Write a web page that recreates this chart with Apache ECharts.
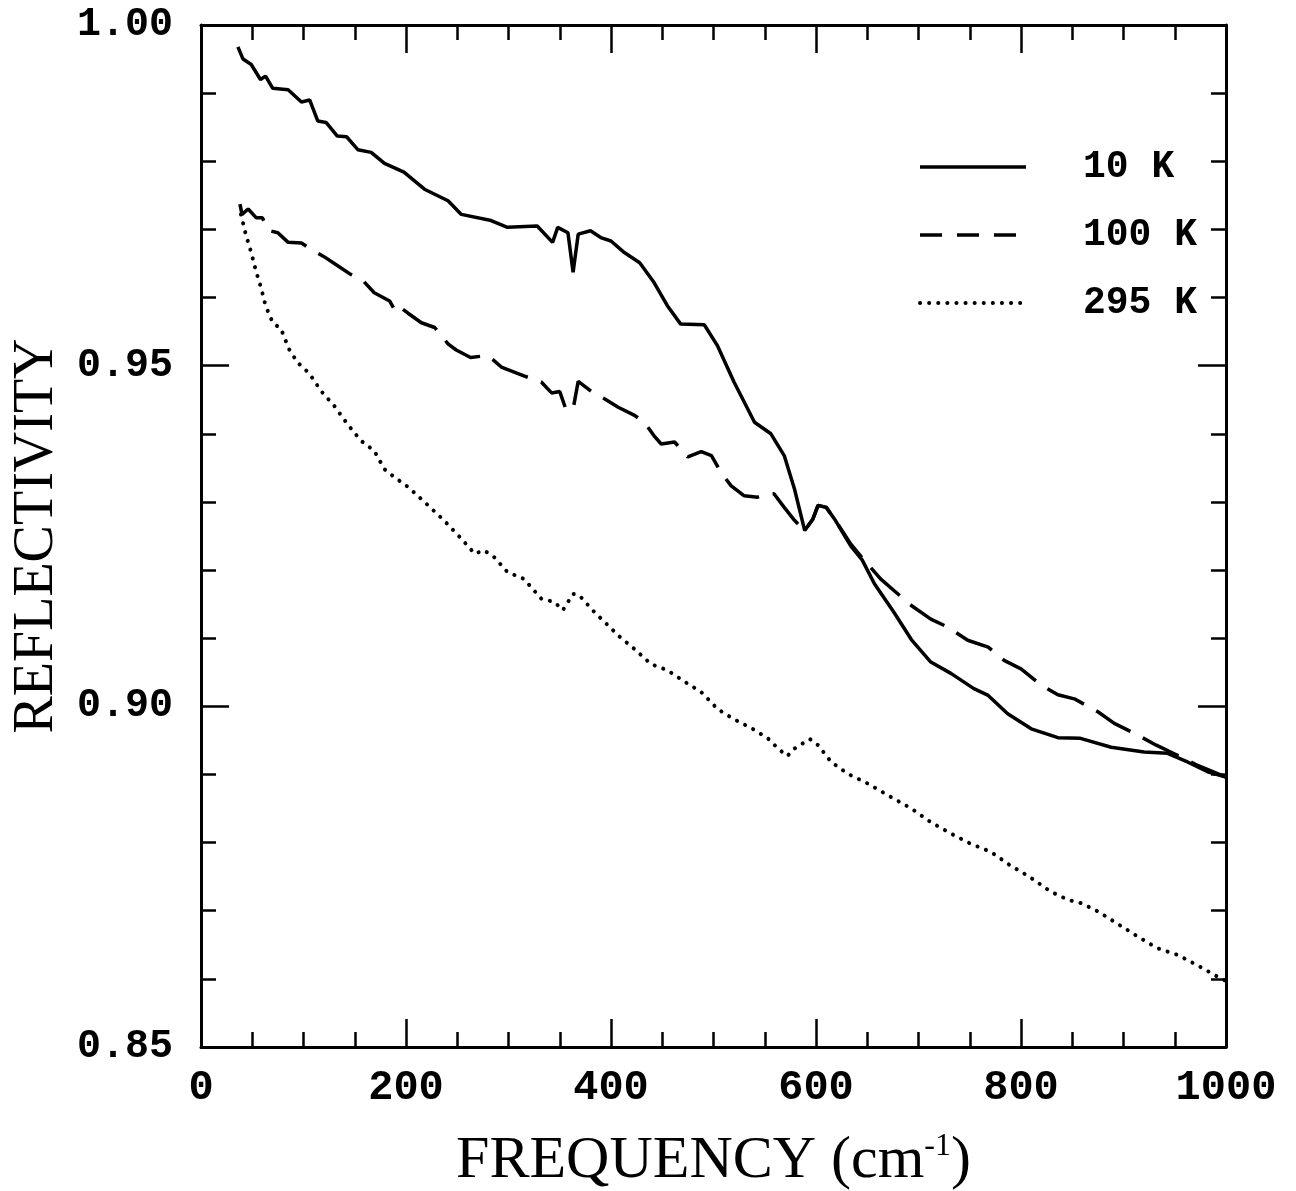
<!DOCTYPE html>
<html>
<head>
<meta charset="utf-8">
<script src="https://cdn.jsdelivr.net/npm/echarts@6/dist/echarts.min.js"></script>
<style>
html,body{margin:0;padding:0;background:#fff;}
#chart{width:1296px;height:1191px;}
</style>
</head>
<body>
<div id="chart"></div>
<script>
// ---- data ----
const seriesNames = ['10 K', '100 K', '295 K'];

const freq10 = [36,41,49,58,63,70,85,98,106,114,122,133,142,153,166,179,198,218,241,254,283,299,328,343,348,358,363,368,380,390,400,413,428,442,455,468,491,504,520,540,556,569,579,589,597,602,610,618,634,645,657,676,693,712,732,754,768,787,810,836,858,888,920,943,963,982,1000];
const refl10 = [0.9968,0.9950,0.9942,0.9920,0.9925,0.9907,0.9905,0.9887,0.9890,0.9859,0.9857,0.9837,0.9836,0.9817,0.9813,0.9797,0.9784,0.9759,0.9742,0.9722,0.9713,0.9703,0.9705,0.9681,0.9703,0.9695,0.9637,0.9693,0.9698,0.9688,0.9683,0.9666,0.9651,0.9622,0.9588,0.9561,0.9560,0.9529,0.9476,0.9417,0.9400,0.9368,0.9319,0.9258,0.9275,0.9295,0.9292,0.9275,0.9235,0.9215,0.9180,0.9138,0.9098,0.9065,0.9048,0.9026,0.9016,0.8989,0.8967,0.8954,0.8953,0.8940,0.8933,0.8931,0.8918,0.8904,0.8896];

const freq100 = [38,40,46,54,60,65,75,85,98,107,120,133,146,158,169,184,190,195,202,215,228,241,249,263,280,293,315,332,342,350,356,363,368,381,394,407,423,433,442,449,462,475,488,498,507,517,530,543,553,559,569,579,589,597,602,610,618,634,645,663,676,693,712,729,748,768,784,800,820,836,852,875,891,911,932,950,970,1000];
const refl100 = [0.9737,0.9722,0.9730,0.9717,0.9717,0.9699,0.9695,0.9681,0.9680,0.9671,0.9660,0.9647,0.9634,0.9625,0.9607,0.9595,0.9579,0.9585,0.9577,0.9563,0.9556,0.9532,0.9523,0.9512,0.9515,0.9498,0.9485,0.9476,0.9460,0.9462,0.9436,0.9436,0.9477,0.9462,0.9451,0.9439,0.9427,0.9416,0.9397,0.9385,0.9388,0.9366,0.9374,0.9368,0.9344,0.9324,0.9309,0.9307,0.9312,0.9312,0.9292,0.9273,0.9258,0.9275,0.9295,0.9292,0.9275,0.9238,0.9218,0.9187,0.9170,0.9148,0.9128,0.9116,0.9097,0.9087,0.9067,0.9055,0.9031,0.9017,0.9011,0.8992,0.8975,0.8960,0.8943,0.8930,0.8915,0.8896];

const freq295 = [39,44,49,54,59,63,70,78,86,94,106,117,130,143,156,169,179,189,202,218,237,254,267,276,286,299,315,332,345,353,363,369,384,397,407,423,439,455,472,488,504,520,537,553,563,572,579,594,602,615,631,650,673,693,712,732,750,771,789,808,829,846,859,875,894,914,933,953,972,992,1000];
const refl295 = [0.9722,0.9691,0.9666,0.9637,0.9612,0.9588,0.9563,0.9554,0.9524,0.9505,0.9488,0.9463,0.9441,0.9414,0.9390,0.9375,0.9348,0.9336,0.9322,0.9300,0.9273,0.9246,0.9224,0.9229,0.9219,0.9197,0.9187,0.9158,0.9153,0.9141,0.9165,0.9163,0.9138,0.9119,0.9104,0.9084,0.9062,0.9053,0.9036,0.9021,0.8996,0.8981,0.8968,0.8953,0.8938,0.8927,0.8938,0.8952,0.8943,0.8918,0.8901,0.8887,0.8867,0.8850,0.8830,0.8813,0.8799,0.8786,0.8767,0.8750,0.8728,0.8716,0.8711,0.8699,0.8681,0.8662,0.8645,0.8635,0.8620,0.8603,0.8597];

const xMin = 0, xMax = 1000, xStep = 200;
const yMin = 0.85, yMax = 1.00, yStep = 0.05;

// ---- chart ----
const zip = (xs, ys) => xs.map((x, i) => [x, ys[i]]);
const monoFont = "'Liberation Mono', 'Courier New', monospace";
const serifFont = "'Liberation Serif', 'Times New Roman', serif";

function xAx(pos, show) {
  return {
    type: 'value', position: pos, min: xMin, max: xMax, interval: xStep,
    axisLine: { show: true, onZero: false, lineStyle: { color: '#000', width: 3 } },
    axisTick: { show: true, inside: true, length: 28, lineStyle: { color: '#000', width: 2.5 } },
    minorTick: { show: true, splitNumber: 4, length: 15, lineStyle: { color: '#000', width: 2.5 } },
    splitLine: { show: false },
    axisLabel: {
      show: show, color: '#000', fontFamily: monoFont, fontWeight: 'bold', fontSize: 42, margin: 20,
      formatter: v => String(v)
    },
    name: show ? 'FREQUENCY (cm{sup|-1})' : '',
    nameLocation: 'middle', nameGap: 84,
    nameTextStyle: {
      color: '#000', fontFamily: serifFont, fontSize: 60,
      rich: { sup: { fontFamily: serifFont, fontSize: 32, color: '#000', verticalAlign: 'top', padding: [0, 0, 24, 0] } }
    }
  };
}
function yAx(pos, show) {
  return {
    type: 'value', position: pos, min: yMin, max: yMax, interval: yStep,
    axisLine: { show: true, onZero: false, lineStyle: { color: '#000', width: 3 } },
    axisTick: { show: true, inside: true, length: 28, lineStyle: { color: '#000', width: 2.5 } },
    minorTick: { show: true, splitNumber: 5, length: 15, lineStyle: { color: '#000', width: 2.5 } },
    splitLine: { show: false },
    axisLabel: {
      show: show, color: '#000', fontFamily: monoFont, fontWeight: 'bold', fontSize: 40, margin: 28,
      formatter: v => v.toFixed(2)
    },
    name: show ? 'REFLECTIVITY' : '',
    nameLocation: 'middle', nameRotate: 90, nameGap: 136,
    nameTextStyle: { color: '#000', fontFamily: serifFont, fontSize: 56 }
  };
}

const chart = echarts.init(document.getElementById('chart'), null, { renderer: 'canvas' });
chart.setOption({
  animation: false,
  backgroundColor: '#fff',
  grid: { left: 201, right: 70, top: 25, bottom: 144, containLabel: false, outerBoundsMode: 'none' },
  xAxis: [xAx('bottom', true), xAx('top', false)],
  yAxis: [yAx('left', true), yAx('right', false)],
  legend: {
    orient: 'vertical', left: 913, top: 142,
    itemWidth: 106, itemHeight: 40, itemGap: 28,
    itemStyle: { opacity: 0 },
    textStyle: { color: '#000', fontFamily: monoFont, fontWeight: 'bold', fontSize: 38, lineHeight: 40, padding: [0, 0, 0, 52] },
    data: [
      { name: seriesNames[0], lineStyle: { color: '#000', width: 3.5, type: 'solid' } },
      { name: seriesNames[1], lineStyle: { color: '#000', width: 3.5, type: [22, 15] } },
      { name: seriesNames[2], lineStyle: { color: '#000', width: 4, type: [0.1, 9], cap: 'round' } }
    ]
  },
  series: [
    { name: seriesNames[0], type: 'line', data: zip(freq10, refl10), symbol: 'none', smooth: false,
      lineStyle: { color: '#000', width: 3.5 }, itemStyle: { color: '#000' } },
    { name: seriesNames[1], type: 'line', data: zip(freq100, refl100), symbol: 'none', smooth: false,
      lineStyle: { color: '#000', width: 3.5, type: [40, 14] }, itemStyle: { color: '#000' } },
    { name: seriesNames[2], type: 'line', data: zip(freq295, refl295), symbol: 'none', smooth: false,
      lineStyle: { color: '#000', width: 4, type: [0.1, 9], cap: 'round' }, itemStyle: { color: '#000' } }
  ]
});
</script>
</body>
</html>
